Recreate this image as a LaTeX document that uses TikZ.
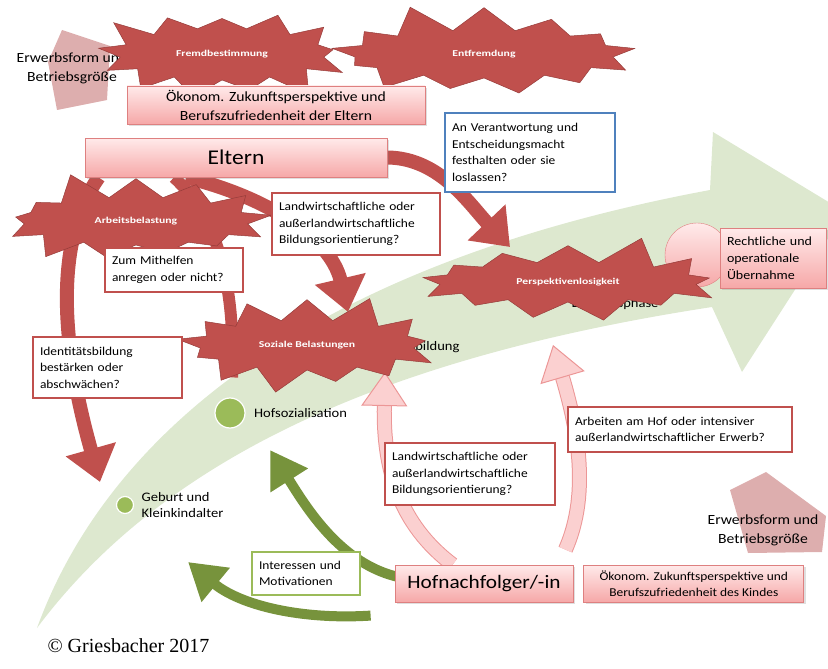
\documentclass[tikz,border=0pt]{standalone}
\usepackage{fontspec}
\setmainfont{Carlito}[FakeStretch=1.12]
\newfontfamily\burstfont{Carlito}[FakeStretch=1.3]
\newfontfamily\copyfont{Liberation Serif}
\usepackage{tikz}
\usetikzlibrary{shapes.symbols, shapes.geometric, arrows.meta, positioning, calc, shadows}
\pgfdeclarelayer{bandlayer}
\pgfdeclarelayer{arrowlayer}
\pgfsetlayers{bandlayer,arrowlayer,main}

\definecolor{bandgreen}{RGB}{221,232,207}
\definecolor{dotgreen}{RGB}{155,187,89}
\definecolor{arrowgreen}{RGB}{119,147,60}
\definecolor{burstred}{RGB}{192,80,77}
\definecolor{burstdark}{RGB}{150,60,58}
\definecolor{pinktop}{RGB}{255,234,234}
\definecolor{pinkbot}{RGB}{246,168,168}
\definecolor{pinkedge}{RGB}{222,128,128}
\definecolor{pinkfill}{RGB}{251,208,208}
\definecolor{pinkline}{RGB}{236,150,150}
\definecolor{blueedge}{RGB}{79,129,189}
\definecolor{erwerbpink}{RGB}{221,174,174}

\tikzstyle{frage} = [draw=burstred, fill=white, line width=1.2pt, align=left, inner xsep=7pt, inner ysep=3pt, font=\fontsize{12}{16.5}\selectfont]
\tikzstyle{rosabox} = [draw=pinkedge, top color=pinktop, bottom color=pinkbot, line width=0.8pt, drop shadow={opacity=0.25, shadow xshift=2pt, shadow yshift=-2pt}]
\tikzstyle{burst} = [starburst, starburst points=13, starburst point height=30pt, fill=burstred, draw=burstdark, line width=0.5pt, text=white, font=\burstfont\bfseries\fontsize{9}{10}\selectfont, inner sep=0pt]
\tikzstyle{dot} = [circle, fill=dotgreen, draw=white, line width=1.2pt, inner sep=0pt]
\tikzstyle{bandtext} = [font=\fontsize{13}{16}\selectfont, align=left]
\tikzstyle{erwerb} = [font=\fontsize{14}{19}\selectfont, align=center]
\tikzstyle{redarrow} = [draw=burstred, line width=14pt, -{Triangle[width=50pt, length=34pt]}]
\tikzstyle{pinkarrow} = [draw=pinkline, line width=1pt, double=pinkfill, double distance=13pt, -{Triangle[width=46pt, length=34pt, fill=pinkfill]}]
\tikzstyle{greenarrow} = [draw=arrowgreen, line width=10pt, -{Triangle[width=42pt, length=36pt]}]

\begin{document}
\begin{tikzpicture}[x=1pt, y=-1pt]
\useasboundingbox (0,0) rectangle (828,669);

% Hintergrund: Zeitpfeil und Erwerbsform-Pfeile
\begin{pgfonlayer}{bandlayer}
\fill[erwerbpink] (48,62) -- (62,30) -- (110,46) -- (107,100) -- (57,110) -- cycle;
\fill[erwerbpink] (730,490) -- (766,472) -- (826,516) -- (822,552) -- (748,553) -- cycle;
\fill[bandgreen] (37,628) .. controls (100,455) and (280,270) .. (710,190) -- (713,132) -- (845,212) -- (742,372) -- (712,307) .. controls (400,355) and (170,450) .. (37,628) -- cycle;
\end{pgfonlayer}

% Phasen
\node (geburt) [dot, minimum size=17pt] at (125,505) {};
\node (hofsoz) [dot, minimum size=30pt] at (230,413) {};
\node (geburttext) [bandtext, right=4pt of geburt] {Geburt und\\Kleinkindalter};
\node (hofsoztext) [bandtext, right=5pt of hofsoz] {Hofsozialisation};
\node (ausbildung) [bandtext, anchor=east] at (463,347) {Ausbildung};
\node (einstieg) [bandtext, anchor=east] at (662,304) {Einstiegsphase};
\node (erwerboben) [erwerb] at (72,68) {Erwerbsform und\\Betriebsgröße};
\node (erwerbunten) [erwerb] at (763,530) {Erwerbsform und\\Betriebsgröße};
\node (uebergabe) [circle, minimum size=64pt, top color=pinktop, bottom color=pinkbot, draw=pinkedge] at (697,255) {};

% Belastungen
\node (fremd) [burst, minimum width=265pt, minimum height=112pt, random starburst=3] at (222,54) {Fremdbestimmung};
\node (entfremd) [burst, minimum width=320pt, minimum height=108pt, random starburst=11] at (484,54) {Entfremdung};
\node (arbeit) [burst, minimum width=285pt, minimum height=108pt, random starburst=5] at (136,221) {Arbeitsbelastung};
\node (sozial) [burst, minimum width=275pt, minimum height=110pt, random starburst=8] at (307,345) {Soziale Belastungen};
\node (persp) [burst, minimum width=318pt, minimum height=100pt, random starburst=2] at (568,282) {Perspektivenlosigkeit};

% Akteure
\node (oekoeltern) [rosabox, minimum width=298pt, minimum height=38pt, align=center, font=\fontsize{14}{19}\selectfont] at (276,105) {Ökonom. Zukunftsperspektive und\\Berufszufriedenheit der Eltern};
\node (eltern) [rosabox, minimum width=302pt, minimum height=39pt, font=\fontsize{21}{24}\selectfont] at (236,157.5) {Eltern};
\node (hof) [rosabox, minimum width=178pt, minimum height=37pt, font=\fontsize{19}{22}\selectfont] at (484,583.5) {Hofnachfolger/-in};
\node (oekokind) [rosabox, right=10pt of hof, minimum width=220pt, minimum height=37pt, align=center, font=\fontsize{12}{16}\selectfont] {Ökonom. Zukunftsperspektive und\\Berufszufriedenheit des Kindes};
\node (rechtlich) [rosabox, minimum width=106pt, minimum height=60pt, text width=92pt, align=left, font=\fontsize{12.5}{17}\selectfont] at (773,258) {Rechtliche und\\operationale\\Übernahme};

% Fragen
\node (landwoben) [frage, text width=154pt, minimum height=62pt] at (356,224) {Landwirtschaftliche oder\\außerlandwirtschaftliche\\Bildungsorientierung?};
\node (mithelfen) [frage, text width=124pt, minimum height=44pt] at (174,270) {Zum Mithelfen\\anregen oder nicht?};
\node (identitaet) [frage, text width=135pt, minimum height=61pt] at (107.5,367.5) {Identitätsbildung\\bestärken oder\\abschwächen?};
\node (landwunten) [frage, text width=156pt, minimum height=62pt] at (470,474) {Landwirtschaftliche oder\\außerlandwirtschaftliche\\Bildungsorientierung?};
\node (arbeiten) [frage, text width=210pt, minimum height=45pt] at (680,429.5) {Arbeiten am Hof oder intensiver\\außerlandwirtschaftlicher Erwerb?};
\node (verantwortung) [frage, draw=blueedge, text width=156pt, minimum height=79pt] at (530,152.5) {An Verantwortung und\\Entscheidungsmacht\\festhalten oder sie\\loslassen?};
\node (interessen) [frage, draw=dotgreen, text width=94pt, minimum height=43pt] at (306,573.5) {Interessen und\\Motivationen};

\node (copyright) [font=\copyfont\fontsize{20}{24}\selectfont, anchor=west] at (44,646) {© Griesbacher 2017};

% Pfeilenden
\coordinate (kleinkindziel) at (100,482);
\coordinate (ausbildungziel) at (385,372);
\coordinate (einstiegziel) at (553,345);
\coordinate (hofsozziel) at (270,450);
\coordinate (geburtziel) at (188,562);

\begin{pgfonlayer}{arrowlayer}
\draw [redarrow] (eltern.east) .. controls (440,158) and (470,205) .. ($(persp.center)+(-58,-35)$);
\draw [redarrow] ($(eltern.south)+(-50,0)$) .. controls (260,195) and (330,235) .. ($(sozial.center)+(41,-33)$);
\draw [redarrow] ($(eltern.south west)+(14,0)$) .. controls (55,240) and (60,340) .. (kleinkindziel);
\draw [draw=burstred, line width=12pt] ($(eltern.south)+(-62,0)$) .. controls (215,215) and (236,280) .. ($(hofsoz.north)+(2,-20)$);
\draw [pinkarrow] ($(hof.north west)+(58,0)$) .. controls (400,525) and (383,470) .. (ausbildungziel);
\draw [pinkarrow] ($(hof.north east)+(-8,-15)$) .. controls (592,490) and (575,420) .. (einstiegziel);
\draw [greenarrow] ($(hof.west)+(6,-6)$) .. controls (340,565) and (305,505) .. (hofsozziel);
\draw [greenarrow] ($(interessen.south east)+(10,20)$) .. controls (300,620) and (240,605) .. (geburtziel);
\end{pgfonlayer}
\end{tikzpicture}
\end{document}
